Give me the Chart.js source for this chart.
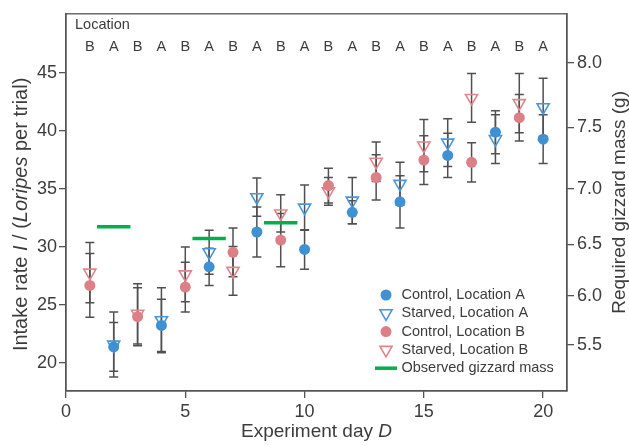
<!DOCTYPE html>
<html><head><meta charset="utf-8">
<script src="https://cdn.jsdelivr.net/npm/chart.js@4.4.0/dist/chart.umd.min.js"></script>
<style>html,body{margin:0;padding:0;background:#fff;}#wrap{width:629px;height:446px;}</style>
</head><body><div id="wrap"><canvas id="c" width="629" height="446"></canvas></div>
<script>
// ---- data ----
const locationLabels = ['B','A','B','A','B','A','B','A','B','A','B','A','B','A','B','A','B','A','B','A'];
const locationDays = [1,2,3,4,5,6,7,8,9,10,11,12,13,14,15,16,17,18,19,20];
const daysA = [2,4,6,8,10,12,14,16,18,20];
const daysB = [1,3,5,7,9,11,13,15,17,19];
const controlA    = [21.4, 23.25, 28.3, 31.3, 29.8, 33.0, 33.9, 37.9, 39.9, 39.3];
const controlAErr = [2.1, 2.25, 1.6, 2.15, 1.7, 1.0, 2.25, 1.9, 1.85, 2.1];
const starvedA    = [21.6, 23.7, 29.55, 34.3, 33.4, 34.0, 35.45, 39.0, 39.3, 42.05];
const starvedAErr = [2.8, 2.8, 1.9, 1.65, 1.95, 2.0, 1.85, 2.05, 2.1, 2.5];
const controlB    = [26.7, 24.0, 26.55, 29.55, 30.6, 35.3, 36.0, 37.5, 37.3, 41.15];
const controlBErr = [2.75, 2.5, 2.15, 2.1, 2.3, 1.5, 1.95, 2.1, 1.7, 2.0];
const starvedB    = [27.8, 24.25, 27.65, 27.95, 32.9, 34.8, 37.35, 38.75, 42.85, 42.4];
const starvedBErr = [2.6, 2.6, 2.35, 2.1, 1.6, 1.2, 1.7, 2.25, 2.1, 2.55];
const gizzardStart = [1.3, 5.3, 8.3];
const gizzardEnd   = [2.7, 6.7, 9.7];
const gizzardIntake = [31.75, 30.75, 32.1];
const xTicks = [0,5,10,15,20];
const yTicks = [20,25,30,35,40,45];
const massTickLabels = ['5.5','6.0','6.5','7.0','7.5','8.0'];
const massTickIntake = [21.58, 25.81, 30.25, 35.04, 40.32, 45.9];

// ---- styles ----
const FONT = '"Liberation Sans", Arial, sans-serif';
const AXIS = '#555555';
const TEXT = '#3c3c3c';
const BLUE = 'rgb(64,144,212)';
const BLUE_T = 'rgb(72,150,220)';
const RED = 'rgb(220,128,134)';
const RED_T = 'rgb(226,132,138)';
const GREEN = 'rgb(0,176,80)';

const pts = (xs, ys) => xs.map((x,i)=>({x:x, y:ys[i]}));

const datasets = [
  {label:'Control, Location A', data:pts(daysA,controlA), errors:controlAErr, pointStyle:'circle', pointRadius:5.5, pointHoverRadius:5.5, backgroundColor:BLUE, borderColor:BLUE, borderWidth:0},
  {label:'Starved, Location A', data:pts(daysA,starvedA), errors:starvedAErr, pointStyle:'triangle', rotation:180, pointRadius:7, pointHoverRadius:7, backgroundColor:'rgba(0,0,0,0)', borderColor:BLUE_T, borderWidth:1.6},
  {label:'Control, Location B', data:pts(daysB,controlB), errors:controlBErr, pointStyle:'circle', pointRadius:5.5, pointHoverRadius:5.5, backgroundColor:RED, borderColor:RED, borderWidth:0},
  {label:'Starved, Location B', data:pts(daysB,starvedB), errors:starvedBErr, pointStyle:'triangle', rotation:180, pointRadius:7, pointHoverRadius:7, backgroundColor:'rgba(0,0,0,0)', borderColor:RED_T, borderWidth:1.6}
];
gizzardStart.forEach((s,i)=>{
  datasets.push({label:'Observed gizzard mass', type:'line', data:[{x:s,y:gizzardIntake[i]},{x:gizzardEnd[i],y:gizzardIntake[i]}],
    borderColor:GREEN, backgroundColor:GREEN, borderWidth:3.5, pointRadius:0, showLine:true, legendSkip: i>0, order:-1});
});

function drawMarker(ctx, style, x, y, r, fill, stroke, lw){
  ctx.save();
  ctx.beginPath();
  if(style==='circle'){ ctx.arc(x,y,r,0,Math.PI*2); ctx.fillStyle=fill; ctx.fill(); }
  else if(style==='triangle'){
    let rad=Math.PI;
    ctx.moveTo(x+Math.sin(rad)*r, y-Math.cos(rad)*r); rad+=2*Math.PI/3;
    ctx.lineTo(x+Math.sin(rad)*r, y-Math.cos(rad)*r); rad+=2*Math.PI/3;
    ctx.lineTo(x+Math.sin(rad)*r, y-Math.cos(rad)*r); ctx.closePath();
    ctx.strokeStyle=stroke; ctx.lineWidth=lw; ctx.stroke();
  } else if(style==='line'){
    ctx.moveTo(x-11,y); ctx.lineTo(x+11,y); ctx.strokeStyle=stroke; ctx.lineWidth=lw; ctx.stroke();
  }
  ctx.restore();
}

function drawRich(ctx, segs, cx, cy, rot){
  ctx.save();
  ctx.translate(cx,cy); ctx.rotate(rot);
  let total=0;
  segs.forEach(s=>{ctx.font=s.font; total+=ctx.measureText(s.t).width;});
  let x=-total/2;
  ctx.textBaseline='middle'; ctx.textAlign='left'; ctx.fillStyle=TEXT;
  segs.forEach(s=>{ctx.font=s.font; ctx.fillText(s.t,x,0); x+=ctx.measureText(s.t).width;});
  ctx.restore();
}

const errorBarPlugin = {
  id:'errorBars',
  beforeDatasetsDraw(chart){
    const ctx=chart.ctx, xs=chart.scales.x, ys=chart.scales.y;
    ctx.save();
    ctx.strokeStyle='#505050'; ctx.lineWidth=1.5;
    chart.data.datasets.forEach(ds=>{
      if(!ds.errors) return;
      ds.data.forEach((p,j)=>{
        const e=ds.errors[j], px=xs.getPixelForValue(p.x);
        const y1=ys.getPixelForValue(p.y-e), y2=ys.getPixelForValue(p.y+e);
        ctx.beginPath();
        ctx.moveTo(px,y1); ctx.lineTo(px,y2);
        ctx.moveTo(px-4.5,y1); ctx.lineTo(px+4.5,y1);
        ctx.moveTo(px-4.5,y2); ctx.lineTo(px+4.5,y2);
        ctx.stroke();
      });
    });
    ctx.restore();
  }
};

const decorPlugin = {
  id:'decor',
  afterDraw(chart){
    const ctx=chart.ctx, a=chart.chartArea, xs=chart.scales.x;
    // frame
    ctx.save(); ctx.strokeStyle=AXIS; ctx.lineWidth=1.3;
    ctx.strokeRect(a.left, a.top, a.right-a.left, a.bottom-a.top); ctx.restore();
    // location row
    ctx.save(); ctx.fillStyle=TEXT; ctx.font='14.5px '+FONT; ctx.textBaseline='middle';
    ctx.textAlign='left'; ctx.fillText('Location', a.left+9, a.top+11);
    ctx.textAlign='center';
    locationLabels.forEach((l,i)=>ctx.fillText(l, xs.getPixelForValue(locationDays[i]), a.top+33));
    ctx.restore();
    // axis titles
    const reg='19px '+FONT, it='italic 19px '+FONT;
    const regL='20px '+FONT, itL='italic 20px '+FONT;
    drawRich(ctx,[{t:'Experiment day ',font:reg},{t:'D',font:it}], (a.left+a.right)/2, 432, 0);
    drawRich(ctx,[{t:'Intake rate ',font:regL},{t:'I',font:itL},{t:' / (',font:regL},{t:'Loripes',font:itL},{t:' per trial)',font:regL}], 21, (a.top+a.bottom)/2+12, -Math.PI/2);
    drawRich(ctx,[{t:'Required gizzard mass (g)',font:reg}], 620, (a.top+a.bottom)/2, -Math.PI/2);
    // legend
    const mx=a.right-181, tx=a.right-165.5; let y=a.bottom-96;
    ctx.save(); ctx.font='14.5px '+FONT; ctx.fillStyle=TEXT; ctx.textBaseline='middle'; ctx.textAlign='left';
    chart.data.datasets.forEach(ds=>{
      if(ds.legendSkip) return;
      if(ds.type==='line') drawMarker(ctx,'line',mx,y,0,null,ds.borderColor,3.5);
      else drawMarker(ctx,ds.pointStyle,mx,y,ds.pointRadius,ds.backgroundColor,ds.borderColor,ds.borderWidth);
      ctx.fillStyle=TEXT; ctx.fillText(ds.label,tx,y);
      y+=18.3;
    });
    ctx.restore();
  }
};

const axisCommon = {
  grid:{drawOnChartArea:false, drawTicks:true, tickLength:7, color:AXIS, lineWidth:1.3},
  border:{display:true, color:AXIS, width:1.3},
};

new Chart(document.getElementById('c'), {
  type:'scatter',
  data:{datasets:datasets},
  options:{
    responsive:false, animation:false, devicePixelRatio:1,
    layout:{padding:{top:12,left:0,right:0,bottom:0}},
    plugins:{legend:{display:false}, tooltip:{enabled:false}},
    scales:{
      x:Object.assign({}, axisCommon, {type:'linear', position:'bottom', min:0, max:21,
        afterBuildTicks:s=>{s.ticks=xTicks.map(v=>({value:v}));},
        afterFit:s=>{s.height=55;},
        ticks:{font:{family:FONT,size:18}, color:TEXT, padding:3, maxRotation:0, autoSkip:false}}),
      y:Object.assign({}, axisCommon, {type:'linear', position:'left', min:17.6, max:50.1,
        afterBuildTicks:s=>{s.ticks=yTicks.map(v=>({value:v}));},
        afterFit:s=>{s.width=66;},
        ticks:{font:{family:FONT,size:18}, color:TEXT, padding:2, autoSkip:false}}),
      y2:Object.assign({}, axisCommon, {type:'linear', position:'right', min:17.6, max:50.1,
        afterBuildTicks:s=>{s.ticks=massTickIntake.map(v=>({value:v}));},
        afterFit:s=>{s.width=62;},
        ticks:{font:{family:FONT,size:18}, color:TEXT, padding:3, autoSkip:false,
          callback:(v,i)=>massTickLabels[i]}})
    }
  },
  plugins:[errorBarPlugin, decorPlugin]
});
</script></body></html>
